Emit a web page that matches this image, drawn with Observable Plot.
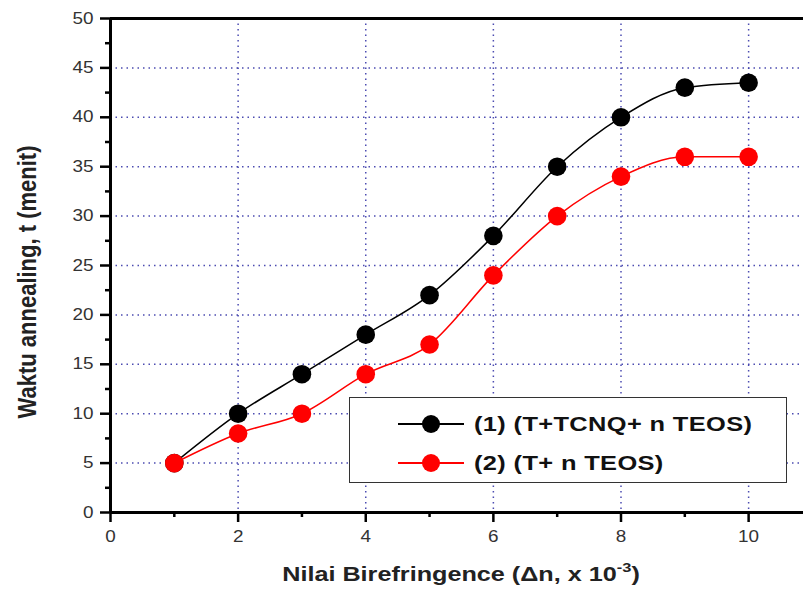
<!DOCTYPE html>
<html><head><meta charset="utf-8">
<script src="https://cdn.jsdelivr.net/npm/d3@7"></script>
<script src="https://cdn.jsdelivr.net/npm/@observablehq/plot@0.6"></script>
<style>
body{margin:0;background:#fff;font-family:"Liberation Sans",Arial,sans-serif;}
#wrap{position:relative;width:803px;height:592px;overflow:hidden;}
svg.main text{font-size:16px;fill:#333;font-family:"Liberation Sans",Arial,sans-serif;}
.ttl{position:absolute;font-weight:bold;font-size:20px;line-height:24px;color:#222;white-space:nowrap;}
#xt{left:461px;top:556px;transform:translateX(-50%) scaleX(1.26);}
#yt{left:28px;top:282px;font-size:22px;transform:translate(-50%,-50%) rotate(-90deg) scaleY(1.18);}
#legend{position:absolute;left:349px;top:397px;width:436px;height:84px;border:1.5px solid #333;background:#fff;}
.row{position:absolute;left:48px;display:flex;align-items:center;font-weight:bold;font-size:21px;color:#111;white-space:nowrap;}
.row svg{margin-right:10px;}
.row span{display:inline-block;transform-origin:left center;transform:scaleX(1.21);letter-spacing:0.3px;}
</style></head><body>
<div id="wrap"></div>
<script>
const xValues = [1, 2, 3, 4, 5, 6, 7, 8, 9, 10];
const series1 = [5, 10, 14, 18, 22, 28, 35, 40, 43, 43.5];
const series2 = [5, 8, 10, 14, 17, 24, 30, 34, 36, 36];
const seriesNames = ["(1) (T+TCNQ+ n TEOS)", "(2) (T+ n TEOS)"];
const seriesColors = ["#000000", "#ff0000"];
const xMajor = [0, 2, 4, 6, 8, 10];
const xMinor = [1, 3, 5, 7, 9];
const yMajor = [0, 5, 10, 15, 20, 25, 30, 35, 40, 45, 50];
const yMinor = [2.5, 7.5, 12.5, 17.5, 22.5, 27.5, 32.5, 37.5, 42.5, 47.5];
const xGrid = [2, 4, 6, 8, 10];
const yGrid = [5, 10, 15, 20, 25, 30, 35, 40, 45];

const rows1 = xValues.map((x, i) => ({x, y: series1[i]}));
const rows2 = xValues.map((x, i) => ({x, y: series2[i]}));
const gridStyle = {stroke: "#3838a8", strokeOpacity: 0.9, strokeDasharray: "1.5,4", strokeWidth: 1.5};

const chart = Plot.plot({
  width: 803, height: 592,
  marginTop: 18, marginLeft: 110, marginRight: 0, marginBottom: 80,
  style: {fontFamily: "Liberation Sans, Arial, sans-serif", fontSize: "16px", color: "#333", background: "white"},
  x: {domain: [0, 10.86]},
  y: {domain: [0, 50]},
  marks: [
    Plot.gridX(xGrid, gridStyle),
    Plot.gridY(yGrid, gridStyle),
    Plot.axisX(xMajor, {tickSize: 10, tickPadding: 8, strokeWidth: 2.5, stroke: "#000", label: null}),
    Plot.axisX(xMinor, {tickSize: 5, strokeWidth: 2.5, stroke: "#000", text: null, label: null}),
    Plot.axisY(yMajor, {tickSize: 10, tickPadding: 7, strokeWidth: 2.5, stroke: "#000", label: null}),
    Plot.axisY(yMinor, {tickSize: 5, strokeWidth: 2.5, stroke: "#000", text: null, label: null}),
    Plot.ruleX([0], {strokeWidth: 3, stroke: "#000"}),
    Plot.ruleY([0], {strokeWidth: 3, stroke: "#000"}),
    Plot.ruleY([50], {strokeWidth: 3, stroke: "#000"}),
    Plot.line(rows1, {x: "x", y: "y", stroke: seriesColors[0], strokeWidth: 1.5, curve: "monotone-x"}),
    Plot.dot(rows1, {x: "x", y: "y", r: 9.3, fill: seriesColors[0]}),
    Plot.line(rows2, {x: "x", y: "y", stroke: seriesColors[1], strokeWidth: 1.5, curve: "monotone-x"}),
    Plot.dot(rows2, {x: "x", y: "y", r: 9.3, fill: seriesColors[1]})
  ]
});
chart.classList.add("main");

const wrap = document.getElementById("wrap");
wrap.appendChild(chart);

// widen tick label glyphs horizontally (reference uses a wide face)
chart.querySelectorAll('g[aria-label="x-axis tick label"] text, g[aria-label="y-axis tick label"] text').forEach(t => {
  const len = t.getComputedTextLength();
  if (len > 0) {
    t.setAttribute("textLength", (len * 1.18).toFixed(2));
    t.setAttribute("lengthAdjust", "spacingAndGlyphs");
  }
});

const xt = document.createElement("div");
xt.className = "ttl"; xt.id = "xt";
xt.innerHTML = "Nilai Birefringence (\u0394n, x 10<sup style='font-size:13px;vertical-align:9px'>-3</sup>)";
wrap.appendChild(xt);

const yt = document.createElement("div");
yt.className = "ttl"; yt.id = "yt";
yt.textContent = "Waktu annealing, t (menit)";
wrap.appendChild(yt);

const legend = document.createElement("div");
legend.id = "legend";
seriesNames.forEach((name, i) => {
  const row = document.createElement("div");
  row.className = "row";
  row.style.top = (i === 0 ? 14 : 53) + "px";
  row.innerHTML = `<svg width="66" height="22"><line x1="0" x2="66" y1="11" y2="11" stroke="${seriesColors[i]}" stroke-width="1.8"/><circle cx="33" cy="11" r="9" fill="${seriesColors[i]}"/></svg><span>${name}</span>`;
  legend.appendChild(row);
});
wrap.appendChild(legend);
</script>
</body></html>
